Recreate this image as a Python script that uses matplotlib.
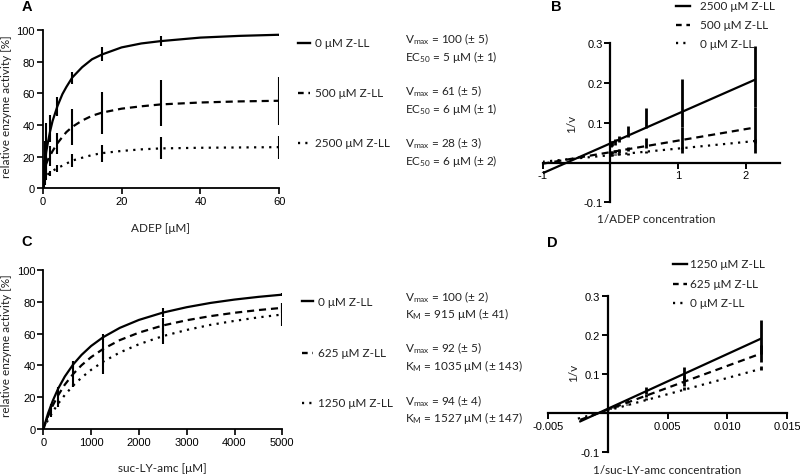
import matplotlib
matplotlib.use('Agg')
from matplotlib import pyplot as plt
from matplotlib.lines import Line2D
from matplotlib.ticker import MultipleLocator

plt.rcParams['font.family'] = ['Lato', 'DejaVu Sans']
plt.rcParams['mathtext.fontset'] = 'custom'
plt.rcParams['mathtext.rm'] = 'Lato'
plt.rcParams['mathtext.it'] = 'Lato:italic'
plt.rcParams['mathtext.bf'] = 'Lato:bold'

W, H = 800, 477
TXT = '#222222'

# ---- panel A: ADEP titration ----
adep_fit_x = [0, 0.15, 0.4, 0.9, 1.4, 1.875, 2.5, 3.75, 5, 6, 7.5, 10, 12.5, 15, 20, 25, 30, 40, 50, 60]
adep_fit_0 = [0, 6, 13, 23, 30, 36, 42.5, 52, 59.5, 64, 70, 76.5, 81.5, 84.5, 89, 91.5, 93, 95.2, 96.3, 97]
adep_fit_500 = [0, 7, 11.5, 15.5, 18.5, 20.6, 23.5, 28.5, 32.5, 35.5, 38.8, 42.8, 45.8, 47.8, 50.3, 51.8, 53, 54.2, 54.9, 55.3]
adep_fit_2500 = [0, 5, 6.5, 8, 9, 9.8, 11, 12.8, 14.3, 15.6, 17.5, 19.3, 21, 22.2, 23.6, 24.6, 25.2, 25.6, 25.8, 26]

adep_x = [60, 30, 15, 7.5, 3.75, 1.875, 0.9375, 0.469, 0.234, 0.117]
adep_0 = [97, 93, 84.8, 69.8, 51.7, 37.5, 25, 16, 9, 5]
adep_0_err = [0.5, 3, 4.2, 3.9, 5.8, 8.5, 16, 14, 9, 5]
adep_500 = [55.2, 53.8, 47.7, 38.7, 28.3, 20.6, 15.5, 12, 9, 6]
adep_500_err = [15.3, 14.7, 13.4, 11.3, 6.6, 6.3, 6, 5, 4, 3]
adep_2500 = [25.7, 25.4, 21.9, 17.5, 12.4, 9.4, 8, 6.5, 5, 4]
adep_2500_err = [7.2, 7, 5.5, 4.2, 2.3, 1.8, 2.5, 2, 1.5, 1]

# ---- panel B: Lineweaver-Burk of A ----
lb_a_fit_x = [-1, 2.133]
lb_a_fit_2500 = [-0.027, 0.208]
lb_a_fit_500 = [-0.003, 0.088]
lb_a_fit_0 = [0.002, 0.054]

lb_a_x = [2.133, 1.067, 0.533, 0.267, 0.133, 0.067, 0.033, 0.017]
lb_a_2500 = [0.208, 0.128, 0.090, 0.068, 0.058, 0.053, 0.050, 0.049]
lb_a_2500_lo = [0.140, 0.090, 0.088, 0.064, 0.052, 0.045, 0.042, 0.040]
lb_a_2500_hi = [0.294, 0.210, 0.138, 0.093, 0.068, 0.060, 0.055, 0.053]
lb_a_500 = [0.088, 0.057, 0.041, 0.033, 0.029, 0.027, 0.026, 0.026]
lb_a_500_lo = [0.050, 0.035, 0.036, 0.030, 0.025, 0.023, 0.022, 0.022]
lb_a_500_hi = [0.140, 0.090, 0.061, 0.040, 0.035, 0.032, 0.030, 0.030]
lb_a_0 = [0.054, 0.036, 0.027, 0.023, 0.021, 0.020, 0.019, 0.019]
lb_a_0_lo = [0.023, 0.023, 0.024, 0.020, 0.019, 0.018, 0.017, 0.017]
lb_a_0_hi = [0.060, 0.040, 0.030, 0.025, 0.023, 0.022, 0.021, 0.021]

# ---- panel C: suc-LY-amc titration ----
sub_fit_x = [0, 100, 200, 312.5, 450, 625, 800, 1000, 1250, 1600, 2000, 2500, 3000, 3500, 4000, 4500, 5000]
sub_fit_0 = [0, 9.9, 17.9, 25.5, 33.0, 40.6, 46.6, 52.2, 57.7, 63.6, 68.6, 73.2, 76.6, 79.3, 81.4, 83.1, 84.5]
sub_fit_625 = [0, 8.1, 14.9, 21.3, 27.9, 34.6, 40.1, 45.2, 50.3, 55.9, 60.6, 65.1, 68.4, 71.0, 73.1, 74.8, 76.2]
sub_fit_1250 = [0, 5.8, 10.9, 16.0, 21.4, 27.3, 32.3, 37.2, 42.3, 48.1, 53.3, 58.4, 62.3, 65.5, 68.0, 70.2, 72.0]

sub_x = [5000, 2500, 1250, 625, 312.5, 156.25, 78.125]
sub_0 = [84.5, 73.2, 57.7, 40.6, 25.5, 14.6, 7.9]
sub_0_err = [1, 3, 2, 1.4, 1, 1, 0.5]
sub_625 = [76.2, 65.1, 50.3, 34.6, 21.3, 12.2, 6.6]
sub_625_err = [3, 5, 6, 8, 3, 2, 1]
sub_1250 = [72.0, 58.4, 42.3, 27.3, 16.0, 8.8, 4.7]
sub_1250_err = [7, 5, 7.7, 1, 2, 1, 0.5]

# ---- panel D: Lineweaver-Burk of C ----
lb_c_fit_x = [-0.0023, 0.0128]
lb_c_fit_1250 = [-0.021, 0.190]
lb_c_fit_625 = [-0.017, 0.152]
lb_c_fit_0x = [-0.0025, 0.0128]
lb_c_fit_0 = [-0.014, 0.113]

lb_c_x = [0.0128, 0.0064, 0.0032, 0.0016, 0.0008, 0.0004, 0.0002]
lb_c_1250 = [0.190, 0.101, 0.056, 0.034, 0.022, 0.017, 0.014]
lb_c_1250_lo = [0.150, 0.085, 0.048, 0.031, 0.020, 0.015, 0.013]
lb_c_1250_hi = [0.237, 0.117, 0.066, 0.037, 0.024, 0.018, 0.015]
lb_c_625 = [0.152, 0.081, 0.045, 0.027, 0.018, 0.014, 0.012]
lb_c_625_lo = [0.130, 0.070, 0.041, 0.025, 0.017, 0.013, 0.011]
lb_c_625_hi = [0.175, 0.095, 0.050, 0.030, 0.019, 0.015, 0.013]
lb_c_0 = [0.113, 0.064, 0.036, 0.023, 0.016, 0.013, 0.012]
lb_c_0_lo = [0.109, 0.060, 0.034, 0.022, 0.015, 0.012, 0.011]
lb_c_0_hi = [0.120, 0.068, 0.038, 0.024, 0.017, 0.014, 0.013]

# legend / annotation texts
legend_a = ['0 \u03bcM Z-LL', '500 \u03bcM Z-LL', '2500 \u03bcM Z-LL']
legend_b = ['2500 \u03bcM Z-LL', '500 \u03bcM Z-LL', '0 \u03bcM Z-LL']
legend_c = ['0 \u03bcM Z-LL', '625 \u03bcM Z-LL', '1250 \u03bcM Z-LL']
legend_d = ['1250 \u03bcM Z-LL', '625 \u03bcM Z-LL', '0 \u03bcM Z-LL']
params_a = [('V$_{\\mathrm{max}}$ = 100 (\u00b1 5)', 'EC$_{\\mathrm{50}}$ = 5 \u03bcM (\u00b1 1)'),
            ('V$_{\\mathrm{max}}$ = 61 (\u00b1 5)', 'EC$_{\\mathrm{50}}$ = 6 \u03bcM (\u00b1 1)'),
            ('V$_{\\mathrm{max}}$ = 28 (\u00b1 3)', 'EC$_{\\mathrm{50}}$ = 6 \u03bcM (\u00b1 2)')]
params_c = [('V$_{\\mathrm{max}}$ = 100 (\u00b1 2)', 'K$_{\\mathrm{M}}$ = 915 \u03bcM (\u00b1 41)'),
            ('V$_{\\mathrm{max}}$ = 92 (\u00b1 5)', 'K$_{\\mathrm{M}}$ = 1035 \u03bcM (\u00b1 143)'),
            ('V$_{\\mathrm{max}}$ = 94 (\u00b1 4)', 'K$_{\\mathrm{M}}$ = 1527 \u03bcM (\u00b1 147)')]

SOLID = '-'
DASH = (0, (3.2, 2.2))
DOT = (0, (1, 2.4))
STYLES = [SOLID, DASH, DOT]
# legend samples are short, so tighter patterns to show "- -" and ". . ."
LEG_STYLES = [SOLID, (0, (2.4, 2.0)), (0, (0.9, 2.2))]


def add_axes_px(fig, left, top, right, bottom):
    return fig.add_axes([left / W, 1 - bottom / H, (right - left) / W, (bottom - top) / H])


def fig_text(fig, x, y, s, **kw):
    kw.setdefault('color', TXT)
    kw.setdefault('fontsize', 8.5)
    kw.setdefault('va', 'center')
    fig.text(x / W, 1 - y / H, s, **kw)


def legend_px(fig, x0, x1, ys, labels, tx):
    for y, lab, ls in zip(ys, labels, LEG_STYLES):
        fig.add_artist(Line2D([x0 / W, x1 / W], [1 - y / H] * 2, transform=fig.transFigure,
                              color='k', lw=1.7, linestyle=ls))
        fig_text(fig, tx, y, lab)


def style_linear(ax):
    for s in ['top', 'right']:
        ax.spines[s].set_visible(False)
    for s in ['left', 'bottom']:
        ax.spines[s].set_linewidth(1.3)
    ax.tick_params(direction='out', length=4, width=1.2, labelsize=8,
                   labelfontfamily='Liberation Sans', colors='k', pad=1.5)


def style_lb(ax):
    ax.spines['left'].set_position(('data', 0))
    ax.spines['bottom'].set_position(('data', 0))
    for s in ['top', 'right']:
        ax.spines[s].set_visible(False)
    for s in ['left', 'bottom']:
        ax.spines[s].set_linewidth(1.6)
    ax.tick_params(direction='out', length=4, width=1.4, labelsize=8,
                   labelfontfamily='Liberation Sans', colors='k', pad=1.5)
    ax.patch.set_alpha(0)


def lb_err(mean, lo, hi):
    return [[m - l for m, l in zip(mean, lo)], [h - m for m, h in zip(mean, hi)]]


fig = plt.figure(figsize=(8, 4.77), dpi=100)

# ---------------- A ----------------
ax = add_axes_px(fig, 42.7, 31, 279.3, 189.3)
for fy, my, me, ls in zip([adep_fit_0, adep_fit_500, adep_fit_2500],
                          [adep_0, adep_500, adep_2500],
                          [adep_0_err, adep_500_err, adep_2500_err], STYLES):
    ax.plot(adep_fit_x, fy, color='k', lw=1.6, linestyle=ls)
    ax.errorbar(adep_x, my, yerr=me, fmt='none', ecolor='k', elinewidth=1.5, capsize=0)
ax.set_xlim(0, 60)
ax.set_ylim(0, 100)
ax.xaxis.set_major_locator(MultipleLocator(20))
ax.yaxis.set_major_locator(MultipleLocator(20))
style_linear(ax)
ax.text(0.499, -0.249, 'ADEP [\u03bcM]', transform=ax.transAxes, ha='center', va='center',
        fontsize=8.5, color=TXT)
ax.text(-0.153, 0.52, 'relative enzyme activity [%]', transform=ax.transAxes, ha='center',
        va='center', rotation=90, fontsize=8.5, color=TXT)
legend_px(fig, 298, 310, [43.5, 93.5, 144], legend_a, 315)
for (v, k), y in zip(params_a, [39.5, 91.5, 143.5]):
    fig_text(fig, 405, y, v)
    fig_text(fig, 405, y + 17.5, k)

# ---------------- B ----------------
ax = add_axes_px(fig, 542.5, 44.3, 779.5, 203.3)
for fy, my, lo, hi, ls in zip([lb_a_fit_2500, lb_a_fit_500, lb_a_fit_0],
                              [lb_a_2500, lb_a_500, lb_a_0],
                              [lb_a_2500_lo, lb_a_500_lo, lb_a_0_lo],
                              [lb_a_2500_hi, lb_a_500_hi, lb_a_0_hi], STYLES):
    ax.plot(lb_a_fit_x, fy, color='k', lw=1.6, linestyle=ls)
    ax.errorbar(lb_a_x, my, yerr=lb_err(my, lo, hi), fmt='none', ecolor='k',
                elinewidth=2.0, capsize=0)
ax.set_xlim(-1, 2.5)
ax.set_ylim(-0.1, 0.3)
ax.set_xticks([-1, 1, 2])
ax.set_xticklabels(['-1', '1', '2'])
ax.set_yticks([-0.1, 0.1, 0.2, 0.3])
ax.set_yticklabels(['-0.1', '0.1', '0.2', '0.3'])
style_lb(ax)
ax.text(0.124, 0.5, '1/v', transform=ax.transAxes, ha='center', va='center', rotation=90,
        fontsize=8.5, color=TXT)
ax.text(0.479, -0.099, '1/ADEP concentration', transform=ax.transAxes, ha='center',
        va='center', fontsize=8.5, color=TXT)
legend_px(fig, 676, 690, [7, 25.5, 44], legend_b, 700)

# ---------------- C ----------------
ax = add_axes_px(fig, 43.3, 271, 282.3, 430)
for fy, my, me, ls in zip([sub_fit_0, sub_fit_625, sub_fit_1250],
                          [sub_0, sub_625, sub_1250],
                          [sub_0_err, sub_625_err, sub_1250_err], STYLES):
    ax.plot(sub_fit_x, fy, color='k', lw=1.6, linestyle=ls)
    ax.errorbar(sub_x, my, yerr=me, fmt='none', ecolor='k', elinewidth=1.5, capsize=0)
ax.set_xlim(0, 5000)
ax.set_ylim(0, 100)
ax.xaxis.set_major_locator(MultipleLocator(1000))
ax.yaxis.set_major_locator(MultipleLocator(20))
style_linear(ax)
ax.text(0.5, -0.239, 'suc-LY-amc [\u03bcM]', transform=ax.transAxes, ha='center', va='center',
        fontsize=8.5, color=TXT)
ax.text(-0.155, 0.53, 'relative enzyme activity [%]', transform=ax.transAxes, ha='center',
        va='center', rotation=90, fontsize=8.5, color=TXT)
legend_px(fig, 301.5, 313, [302, 354, 403.5], legend_c, 318)
for (v, k), y in zip(params_c, [297, 348.5, 401]):
    fig_text(fig, 405, y, v)
    fig_text(fig, 405, y + 17.5, k)

# ---------------- D ----------------
ax = add_axes_px(fig, 548, 296.7, 787, 453.3)
for fx, fy, my, lo, hi, ls in zip([lb_c_fit_x, lb_c_fit_x, lb_c_fit_0x],
                                  [lb_c_fit_1250, lb_c_fit_625, lb_c_fit_0],
                                  [lb_c_1250, lb_c_625, lb_c_0],
                                  [lb_c_1250_lo, lb_c_625_lo, lb_c_0_lo],
                                  [lb_c_1250_hi, lb_c_625_hi, lb_c_0_hi], STYLES):
    ax.plot(fx, fy, color='k', lw=1.6, linestyle=ls)
    ax.errorbar(lb_c_x, my, yerr=lb_err(my, lo, hi), fmt='none', ecolor='k',
                elinewidth=2.0, capsize=0)
ax.set_xlim(-0.005, 0.015)
ax.set_ylim(-0.1, 0.3)
ax.set_xticks([-0.005, 0.005, 0.010, 0.015])
ax.set_xticklabels(['-0.005', '0.005', '0.010', '0.015'])
ax.set_yticks([-0.1, 0.1, 0.2, 0.3])
ax.set_yticklabels(['-0.1', '0.1', '0.2', '0.3'])
style_lb(ax)
ax.text(0.105, 0.513, '1/v', transform=ax.transAxes, ha='center', va='center', rotation=90,
        fontsize=8.5, color=TXT)
ax.text(0.5, -0.107, '1/suc-LY-amc concentration', transform=ax.transAxes, ha='center',
        va='center', fontsize=8.5, color=TXT)
legend_px(fig, 673, 687, [265, 284.5, 303.5], legend_d, 690)

# panel letters
for lab, x, y in [('A', 26.5, 7), ('B', 556, 7), ('C', 26.5, 242), ('D', 552.5, 243)]:
    fig.text(x / W, 1 - y / H, lab, fontsize=10.5, fontweight='bold', ha='center', va='center',
             family='Liberation Sans', color='k')

fig.savefig('out.png', dpi=100)
